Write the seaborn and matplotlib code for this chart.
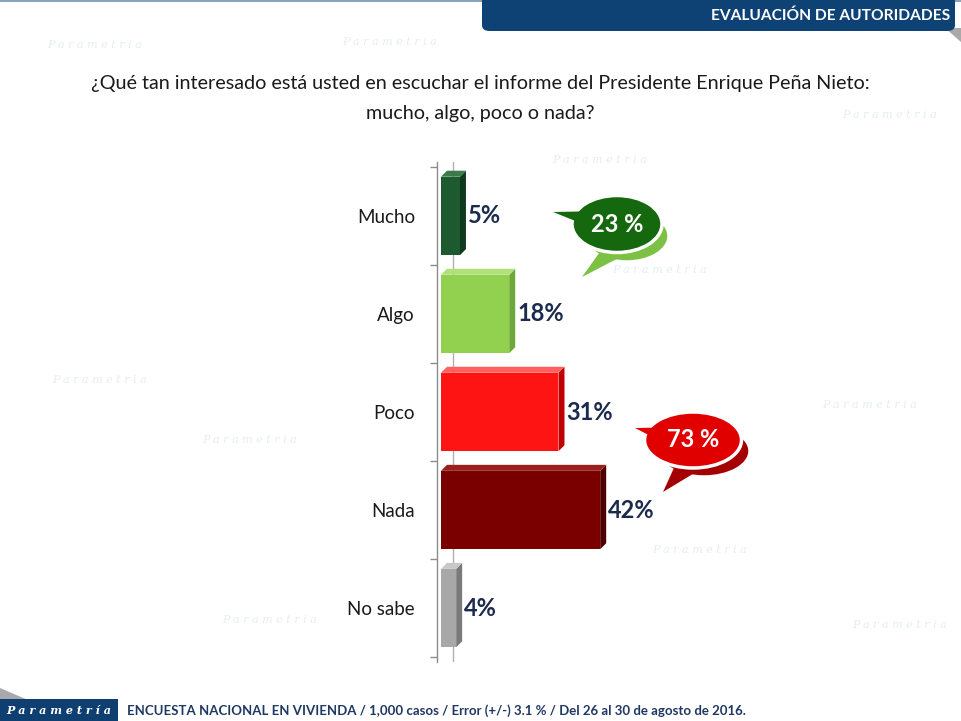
import matplotlib
matplotlib.use("Agg")
import matplotlib.pyplot as plt
import seaborn as sns
import numpy as np
from matplotlib.patches import Polygon, FancyBboxPatch, Ellipse
from matplotlib.transforms import IdentityTransform, offset_copy

# ---- data ----
categories = ["Mucho", "Algo", "Poco", "Nada", "No sabe"]
values = [5, 18, 31, 42, 4]
colors = ["#1d5a30", "#92d050", "#ff1414", "#7a0000", "#a8a8a8"]
side_colors = ["#0f3a1c", "#6fa83a", "#c00000", "#4e0000", "#7a7a7a"]
top_colors = ["#3c7a4c", "#b0e07a", "#ff6060", "#9a2020", "#c8c8c8"]
title_lines = ["¿Qué tan interesado está usted en escuchar el informe del Presidente Enrique Peña Nieto:",
               "mucho, algo, poco o nada?"]
header = "EVALUACIÓN DE AUTORIDADES"
footer = "ENCUESTA NACIONAL EN VIVIENDA / 1,000 casos / Error (+/-) 3.1 % / Del 26 al 30 de agosto de 2016."
brand = "Parametría"

sns.set_theme(style="white")
plt.rcParams['font.family'] = ['Lato', 'DejaVu Sans']

W, H = 961, 721
fig = plt.figure(figsize=(W / 100, H / 100), dpi=100)
fig.patch.set_facecolor("white")

def fx(px):
    return px / W

def fy(py):
    return 1 - py / H

# faint watermark text
for (px, py) in [(95, 45), (390, 42), (600, 160), (890, 115), (660, 270), (100, 380),
                 (870, 405), (250, 440), (700, 550), (270, 620), (900, 625)]:
    fig.text(fx(px), fy(py), "P a r a m e t r i a", fontsize=8, style="italic", color="#e6edf0",
             ha="center", va="center", zorder=0, family=["DejaVu Serif"])

# ---- axes ----
px_per = 3.79
x0 = -1.0
xmax = 60
left_px = 441 + x0 * px_per
ax = fig.add_axes([fx(left_px), fy(662), (xmax - x0) * px_per / W, (662 - 162) / H])
ax.patch.set_alpha(0)

sns.barplot(x=values, y=categories, hue=categories, palette=colors, orient="h", width=0.8,
            saturation=1, ax=ax, legend=False, zorder=3)
ax.set_xlim(x0, xmax)
ax.set_ylim(4.55, -0.55)
ax.set_xlabel("")
ax.set_ylabel("")
ax.set_xticks([])
for s in ["top", "right", "bottom"]:
    ax.spines[s].set_visible(False)
ax.spines["left"].set_color("#8c8c8c")
ax.spines["left"].set_linewidth(1.0)
ax.set_yticks(range(len(categories)))
ax.set_yticklabels(categories, fontsize=13.5, color="#1a1a1a")
ax.tick_params(axis="y", which="major", length=0, pad=16)
ax.set_yticks(np.arange(-0.5, len(categories), 1.0), minor=True)
ax.tick_params(axis="y", which="minor", length=5, color="#8c8c8c", width=1, left=True)
# back wall line
ax.axvline(3.2, color="#b0b0b0", lw=1, zorder=1)

fig.canvas.draw()
dx, dy = 6, 6
for p in ax.patches:
    bx, by, bw, bh = p.get_x(), p.get_y(), p.get_width(), p.get_height()
    i = int(round(by + bh / 2))
    (xl, ya), (xr, yb) = ax.transData.transform([(bx, by), (bx + bw, by + bh)])
    ylo, yhi = min(ya, yb), max(ya, yb)
    side = Polygon([(xr, ylo), (xr + dx, ylo + dy), (xr + dx, yhi + dy), (xr, yhi)],
                   closed=True, transform=IdentityTransform(), facecolor=side_colors[i],
                   edgecolor="none", zorder=2)
    top = Polygon([(xl, yhi), (xl + dx, yhi + dy), (xr + dx, yhi + dy), (xr, yhi)],
                  closed=True, transform=IdentityTransform(), facecolor=top_colors[i],
                  edgecolor="none", zorder=2)
    fig.patches.append(side)
    fig.patches.append(top)
    p.set_edgecolor("none")
    ax.text(bx + bw, by + bh / 2, f"{values[i]}%",
            transform=offset_copy(ax.transData, fig=fig, x=8, y=0, units="dots"),
            ha="left", va="center", fontsize=17, fontweight="bold", color="#1c2a4d")

# ---- title ----
fig.text(0.5, fy(83), title_lines[0], ha="center", va="center", fontsize=14.2, color="#1a1a1a")
fig.text(0.5, fy(113), title_lines[1], ha="center", va="center", fontsize=14.2, color="#1a1a1a")

# ---- header banner ----
fig.patches.append(Polygon([(fx(0), fy(0)), (fx(961), fy(0)), (fx(961), fy(2)), (fx(0), fy(2))],
                           closed=True, transform=fig.transFigure, facecolor="#8aa3bd", edgecolor="none"))
fig.patches.append(Polygon([(fx(945), fy(28)), (fx(961), fy(28)), (fx(961), fy(42))],
                           closed=True, transform=fig.transFigure, facecolor="#a9a9a9", edgecolor="none"))
banner = FancyBboxPatch((fx(482), fy(31)), fx(955 - 482), 31 / H,
                        boxstyle="round,pad=0,rounding_size=0.008", transform=fig.transFigure,
                        facecolor="#0e4275", edgecolor="none")
fig.patches.append(banner)
fig.patches.append(Polygon([(fx(482), fy(0)), (fx(955), fy(0)), (fx(955), fy(12)), (fx(482), fy(12))],
                           closed=True, transform=fig.transFigure, facecolor="#0e4275", edgecolor="none"))
fig.text(fx(950), fy(16), header, ha="right", va="center", fontsize=11.2, fontweight="bold",
         color="white")

# ---- footer ----
fig.patches.append(Polygon([(fx(0), fy(688)), (fx(28), fy(700)), (fx(0), fy(700))],
                           closed=True, transform=fig.transFigure, facecolor="#a9a9a9", edgecolor="none"))
fig.patches.append(Polygon([(fx(0), fy(699)), (fx(118), fy(699)), (fx(118), fy(721)), (fx(0), fy(721))],
                           closed=True, transform=fig.transFigure, facecolor="#0e3f70", edgecolor="none"))
fig.text(fx(59), fy(710), " ".join(brand), ha="center", va="center", fontsize=8, style="italic",
         fontweight="bold", color="white", family=["DejaVu Serif"])
fig.text(fx(127), fy(711), footer, ha="left", va="center", fontsize=9.5, fontweight="bold",
         color="#1f3864")

# ---- speech bubbles ----
def ell(cx, cy, w, h, fc, ec, lw, z):
    fig.patches.append(Ellipse((fx(cx), fy(cy)), w / W, h / H, transform=fig.transFigure,
                               facecolor=fc, edgecolor=ec, lw=lw, zorder=z))

def tri(pts, fc, ec, lw, z):
    fig.patches.append(Polygon([(fx(a), fy(b)) for a, b in pts], closed=True,
                               transform=fig.transFigure, facecolor=fc, edgecolor=ec, lw=lw, zorder=z))

def bubble(c, w, h, sc, sw, sh, tail, stail, color, shadow, label):
    cx, cy = c
    sx, sy = sc
    stri = [(sx - sw * 0.32, sy + sh * 0.30), stail, (sx - sw * 0.12, sy + sh * 0.44)]
    mtri = [(cx - w * 0.40, cy - h * 0.22), tail, (cx - w * 0.30, cy + h * 0.05)]
    # shadow bubble
    tri(stri, shadow, "white", 2.5, 4)
    ell(sx, sy, sw, sh, shadow, "white", 2.5, 4.1)
    tri(stri, shadow, "none", 0, 4.2)
    # main bubble
    tri(mtri, color, "white", 2.5, 5)
    ell(cx, cy, w, h, color, "white", 2.5, 5.1)
    tri(mtri, color, "none", 0, 5.2)
    fig.text(fx(cx), fy(cy), label, ha="center", va="center", fontsize=17, fontweight="bold",
             color="white", zorder=7)

bubble((617, 224), 90, 57, (627, 236), 84, 52, (553, 212), (582, 277), "#16680f", "#7cc143",
       f"{values[0] + values[1]} %")
bubble((693, 440), 97, 56, (704, 451), 92, 52, (635, 428), (663, 492), "#e00000", "#a40000",
       f"{values[2] + values[3]} %")

fig.savefig("out.png", dpi=100)
